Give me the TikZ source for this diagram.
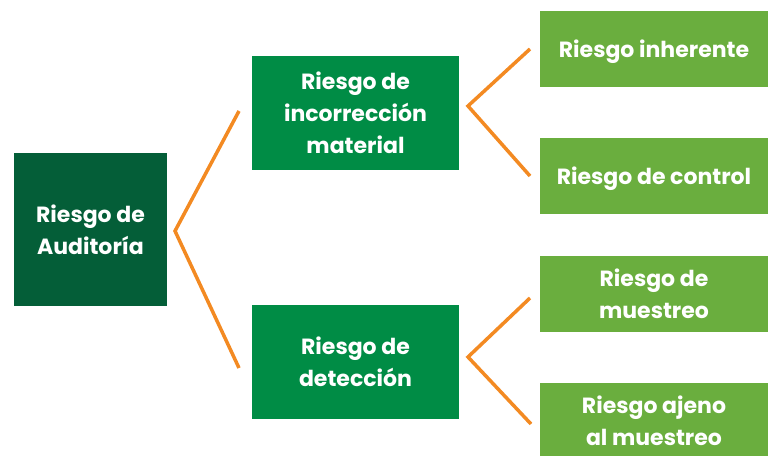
\documentclass[tikz,border=0pt]{standalone}
\usepackage{fontspec}
\setmainfont{Poppins}
\usetikzlibrary{positioning}

\begin{document}
\begin{tikzpicture}[x=1pt,y=1pt,yscale=-1,
  caja/.style={rectangle, inner sep=0pt, align=center, text=white, text depth=0pt, font=\fontsize{22}{32}\selectfont\bfseries},
  raiz/.style={caja, fill=verdeosc, minimum width=153pt, minimum height=153pt},
  medio/.style={caja, fill=verdemed, minimum width=207pt, minimum height=114pt},
  hoja/.style={caja, fill=verdecla, minimum width=228pt, minimum height=76pt},
  llave/.style={draw=naranja, line width=3.5pt}]
\definecolor{verdeosc}{HTML}{045E38}
\definecolor{verdemed}{HTML}{008C45}
\definecolor{verdecla}{HTML}{6AAE3E}
\definecolor{naranja}{HTML}{F38A22}
\useasboundingbox (0,0) rectangle (768,455);

% Cajas
\node[raiz] (auditoria) at (90.5,229.5) {Riesgo de\\Auditoría};
\node[medio] (incorreccion) at (355.5,112.5) {Riesgo de\\incorrección\\material};
\node[medio] (deteccion) at (355.5,362) {Riesgo de\\detección};
\node[hoja] (inherente) at (654,49) {Riesgo inherente};
\node[hoja] (control) at (654,176) {Riesgo de control};
\node[hoja] (muestreo) at (654,294) {Riesgo de\\muestreo};
\node[hoja] (ajeno) at (654,421) {Riesgo ajeno\\al muestreo};

% Llaves
\coordinate (v1) at (175,231);
\coordinate (a1) at (239,111);
\coordinate (b1) at (239,368);
\coordinate (v2) at (468,106);
\coordinate (a2) at (530,49);
\coordinate (b2) at (530,176);
\coordinate (v3) at (468,357);
\coordinate (a3) at (530,298);
\coordinate (b3) at (531,424);
\draw[llave] (a1) -- (v1) -- (b1);
\draw[llave] (a2) -- (v2) -- (b2);
\draw[llave] (a3) -- (v3) -- (b3);

\end{tikzpicture}
\end{document}
